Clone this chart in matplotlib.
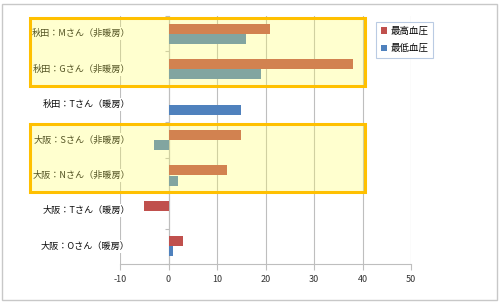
import matplotlib
matplotlib.use('Agg')
import matplotlib.pyplot as plt
import numpy as np
from matplotlib.patches import Rectangle
from matplotlib.transforms import blended_transform_factory

plt.rcParams['font.family'] = ['Noto Sans CJK JP', 'DejaVu Sans']

cats = ['秋田：Mさん（非暖房）', '秋田：Gさん（非暖房）', '秋田：Tさん（暖房）',
        '大阪：Sさん（非暖房）', '大阪：Nさん（非暖房）', '大阪：Tさん（暖房）',
        '大阪：Oさん（暖房）']
high = [21, 38, np.nan, 15, 12, -5, 3]   # 最高血圧
low = [16, 19, 15, -3, 2, np.nan, 1]     # 最低血圧
xticks = [-10, 0, 10, 20, 30, 40, 50]
# highlighted groups (rows from top)
groups = [(0, 1), (3, 4)]

fig = plt.figure(figsize=(5.0, 3.02), dpi=100)
ax = fig.add_axes([120/500, 38/302, 291/500, 248/302])

y = np.arange(len(cats))
h = 0.28
ax.barh(y - 0.145, high, height=h, color='#C0504D', label='最高血圧', zorder=3)
ax.barh(y + 0.145, low, height=h, color='#4F81BD', label='最低血圧', zorder=3)

ax.set_xlim(-10, 50)
ax.set_ylim(len(cats) - 0.5, -0.5)
ax.set_xticks(xticks)
ax.set_xticklabels([str(v) for v in xticks], fontsize=6.5, color='#333333')
ax.xaxis.grid(True, color='#BEBEBE', lw=0.8, zorder=0)
ax.set_axisbelow(True)

for s in ['top', 'right']:
    ax.spines[s].set_visible(False)
ax.spines['bottom'].set_color('#BEBEBE')
ax.spines['left'].set_position(('data', 0))
ax.spines['left'].set_color('#BEBEBE')
ax.tick_params(axis='x', length=4, color='#BEBEBE', pad=4)
ax.set_yticks(np.arange(len(cats) + 1) - 0.5)
ax.set_yticklabels([])
ax.tick_params(axis='y', length=3, color='#BEBEBE')

tr = blended_transform_factory(ax.transAxes, ax.transData)
for i, c in enumerate(cats):
    ax.text(0.034, i, c, transform=tr, ha='right', va='center', fontsize=6.6,
            color='#111111', zorder=4,
            bbox=dict(facecolor='white', edgecolor='none', pad=1.5))

# yellow highlight boxes
for a, b in groups:
    top = a - 0.44
    bot = b + 0.47
    ax.add_patch(Rectangle((-28.6, top), 40.5 + 28.6, bot - top,
                           facecolor='#FFFF5A', edgecolor='none', alpha=0.29,
                           clip_on=False, zorder=5))
    ax.add_patch(Rectangle((-28.6, top), 40.5 + 28.6, bot - top,
                           fill=False, edgecolor='#FFC000', lw=2.2,
                           clip_on=False, zorder=6))

leg = fig.legend(loc='upper left', bbox_to_anchor=(376/500, 1 - 22/302),
                 fontsize=6.8, frameon=True, fancybox=False,
                 handlelength=0.7, handleheight=0.7, handletextpad=0.3,
                 labelspacing=0.9, borderpad=0.5, borderaxespad=0)
leg.get_frame().set_edgecolor('#A9BFDC')
leg.get_frame().set_linewidth(0.8)

fig.patches.append(Rectangle((2/500, 2/302), 495/500, 296/302, fill=False,
                             edgecolor='#C8C8C8', lw=1,
                             transform=fig.transFigure, figure=fig))

fig.savefig('out.png', dpi=100)
